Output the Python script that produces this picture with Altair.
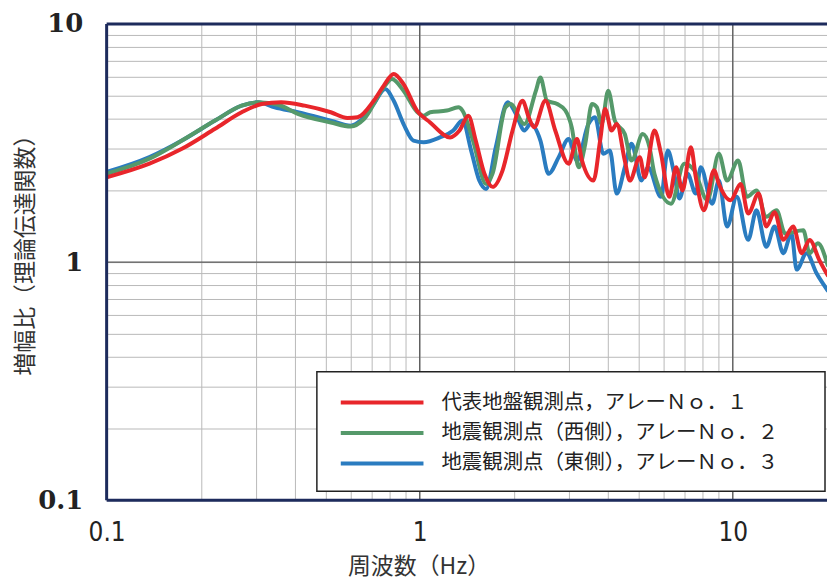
import altair as alt
import pandas as pd

# ---- data (frequency in Hz, amplitude ratio) ----
freq_red = [0.100, 0.137, 0.174, 0.222, 0.270, 0.313, 0.361, 0.429, 0.520, 0.588, 0.633, 0.713,
            0.767, 0.826, 0.888, 0.980, 1.08, 1.25, 1.34, 1.43, 1.51, 1.61, 1.71, 1.84, 1.98,
            2.13, 2.23, 2.32, 2.52, 2.71, 2.99, 3.18, 3.30, 3.59, 3.77, 3.91, 4.10, 4.26, 4.52,
            4.69, 5.05, 5.23, 5.62, 5.90, 6.27, 6.59, 6.91, 7.35, 7.62, 8.09, 8.71, 9.03, 9.84,
            10.6, 11.2, 12.1, 12.8, 13.6, 14.5, 15.6, 16.6, 17.6, 18.9, 20.1]
amp_red = [2.27, 2.59, 2.99, 3.63, 4.26, 4.61, 4.69, 4.54, 4.26, 4.03, 4.06, 4.76,
           5.50, 6.16, 5.59, 4.33, 3.86, 3.34, 3.57, 4.12, 3.24, 2.35, 2.07, 2.43, 3.57,
           4.76, 4.06, 3.68, 4.76, 3.57, 2.59, 3.29, 2.67, 2.20, 3.24, 4.40, 3.57, 3.80, 2.67,
           2.20, 2.76, 2.27, 3.57, 2.85, 1.88, 2.50, 2.00, 3.04, 2.27, 1.65, 2.43, 2.13, 1.82,
           2.13, 1.60, 1.94, 1.41, 1.62, 1.24, 1.41, 1.09, 1.24, 1.02, 0.88]

freq_green = [0.100, 0.137, 0.174, 0.222, 0.270, 0.305, 0.353, 0.408, 0.520, 0.602, 0.664, 0.767,
              0.815, 0.888, 0.980, 1.03, 1.08, 1.22, 1.33, 1.37, 1.48, 1.63, 1.71, 1.88, 1.95,
              2.16, 2.35, 2.43, 2.55, 2.75, 2.92, 3.06, 3.22, 3.38, 3.55, 3.68, 3.81, 4.00, 4.20,
              4.52, 4.75, 5.16, 5.42, 5.62, 6.35, 7.00, 7.53, 8.30, 9.03, 9.59, 10.4, 11.1, 11.9,
              12.8, 13.8, 14.7, 16.8, 17.6, 18.7, 20.1]
amp_green = [2.35, 2.72, 3.24, 3.93, 4.54, 4.69, 4.58, 4.19, 3.86, 3.71, 3.99, 5.41,
             5.87, 5.24, 4.28, 4.12, 4.26, 4.33, 4.47, 4.33, 3.24, 2.13, 2.36, 4.47, 4.61,
             3.80, 5.24, 5.96, 4.76, 4.61, 4.33, 3.68, 2.50, 3.14, 4.61, 4.47, 3.80, 5.24, 3.93,
             3.45, 2.67, 3.45, 3.04, 2.35, 1.76, 2.59, 2.43, 1.82, 2.85, 2.20, 2.67, 1.88, 2.00,
             1.55, 1.65, 1.32, 1.36, 1.09, 1.20, 0.97]

freq_blue = [0.100, 0.137, 0.174, 0.222, 0.270, 0.305, 0.344, 0.408, 0.520, 0.602, 0.647, 0.713,
             0.776, 0.826, 0.888, 0.955, 1.03, 1.16, 1.28, 1.37, 1.46, 1.55, 1.63, 1.75, 1.91,
             2.03, 2.16, 2.26, 2.43, 2.58, 2.78, 2.99, 3.18, 3.46, 3.63, 3.86, 4.05, 4.26, 4.52,
             4.75, 5.11, 5.36, 5.90, 6.20, 6.50, 6.75, 7.17, 7.62, 7.90, 8.60, 9.03, 9.59, 10.3,
             11.2, 11.9, 12.8, 13.6, 14.5, 15.4, 16.0, 17.2, 18.5, 20.1]
amp_blue = [2.39, 2.76, 3.24, 3.93, 4.54, 4.69, 4.47, 4.26, 3.93, 3.74, 3.93, 4.61,
            5.33, 4.76, 3.80, 3.24, 3.19, 3.34, 3.57, 3.93, 2.94, 2.20, 2.03, 3.04, 4.69,
            4.19, 3.57, 3.80, 3.24, 2.35, 2.76, 3.29, 2.67, 3.80, 4.06, 2.85, 2.94, 1.94, 2.50,
            3.14, 2.20, 2.50, 1.88, 2.94, 2.35, 1.85, 2.35, 1.94, 2.50, 1.76, 2.20, 1.41, 1.88,
            1.24, 1.65, 1.16, 1.41, 1.09, 1.32, 0.93, 1.09, 0.90, 0.76]

series_names = ["代表地盤観測点，アレーＮｏ．１",
                "地震観測点（西側），アレーＮｏ．２",
                "地震観測点（東側），アレーＮｏ．３"]
series_colors = ["#e8262b", "#55996a", "#2a7cc0"]

x_ticks = [0.1, 0.2, 0.3, 0.4, 0.5, 0.6, 0.7, 0.8, 0.9,
           1, 2, 3, 4, 5, 6, 7, 8, 9, 10]
y_ticks = [0.1, 0.2, 0.3, 0.4, 0.5, 0.6, 0.7, 0.8, 0.9,
           1, 2, 3, 4, 5, 6, 7, 8, 9, 10]
x_major = [1, 10]
y_major = [1]

x_title = "周波数（Hz）"
y_title = "増幅比（理論伝達関数）"

# ---- layout ----
W, H = 723, 478
xscale = alt.Scale(type="log", domain=[0.1, 20], nice=False)
yscale = alt.Scale(type="log", domain=[0.1, 10], nice=False)
frame_color = "#1d2b5c"

def series_df(f, a, name):
    return pd.DataFrame({"freq": f, "amp": a, "series": name})

df_red = series_df(freq_red, amp_red, series_names[0])
df_green = series_df(freq_green, amp_green, series_names[1])
df_blue = series_df(freq_blue, amp_blue, series_names[2])

label_expr = ("datum.value == 0.1 ? '0.1' : datum.value == 1 ? '1' : "
              "datum.value == 10 ? '10' : ''")

x_axis = alt.Axis(values=x_ticks, grid=True, gridColor="#b9b9b9", gridWidth=1,
                  ticks=False, domain=False, labelExpr=label_expr,
                  labelFont="Liberation Sans Narrow, DejaVu Sans Condensed, Liberation Sans",
                  labelFontSize=26,
                  labelColor="#222222", labelPadding=19, labelFlush=False,
                  labelOverlap=False, title=x_title, titleFont="Noto Sans CJK JP",
                  titleFontSize=23, titleFontWeight="normal", titleColor="#333333",
                  titleX=313, titleY=67, titleBaseline="middle", titleAlign="center")
y_axis = alt.Axis(values=y_ticks, grid=True, gridColor="#b9b9b9", gridWidth=1,
                  ticks=False, domain=False, labelExpr=label_expr,
                  labelFont="DejaVu Serif", labelFontWeight="bold", labelFontSize=26,
                  labelColor="#222222", labelPadding=24, labelFlush=False,
                  labelOverlap=False, title=y_title, titleFont="Noto Sans CJK JP",
                  titleFontSize=23, titleFontWeight="normal", titleColor="#333333",
                  titleX=-81, titleY=226, titleAngle=270,
                  titleBaseline="middle", titleAlign="center")

def line(df, color):
    return alt.Chart(df).mark_line(color=color, strokeWidth=4, clip=True,
                                   strokeJoin="round", strokeCap="round",
                                   interpolate="monotone").encode(
        x=alt.X("freq:Q", scale=xscale, axis=x_axis),
        y=alt.Y("amp:Q", scale=yscale, axis=y_axis),
        order=alt.Order("freq:Q"))

xmaj = alt.Chart(pd.DataFrame({"freq": x_major})).mark_rule(color="#5a5a5a", strokeWidth=1.3).encode(
    x=alt.X("freq:Q", scale=xscale, axis=x_axis))
ymaj = alt.Chart(pd.DataFrame({"amp": y_major})).mark_rule(color="#5a5a5a", strokeWidth=1.3).encode(
    y=alt.Y("amp:Q", scale=yscale, axis=y_axis))

blue = line(df_blue, series_colors[2])
green = line(df_green, series_colors[1])
red = line(df_red, series_colors[0])

one = pd.DataFrame({"k": [0]})
frame_left = alt.Chart(one).mark_rule(color=frame_color, strokeWidth=3).encode(
    x=alt.value(0), y=alt.value(0), y2=alt.value(H))
frame_top = alt.Chart(one).mark_rule(color=frame_color, strokeWidth=3).encode(
    x=alt.value(0), x2=alt.value(W), y=alt.value(0))
frame_bottom = alt.Chart(one).mark_rule(color=frame_color, strokeWidth=3).encode(
    x=alt.value(0), x2=alt.value(W), y=alt.value(H))

# legend box
leg_box = alt.Chart(one).mark_rect(fill="white", stroke="#222222", strokeWidth=1.5).encode(
    x=alt.value(211), x2=alt.value(721), y=alt.value(349), y2=alt.value(469))
legend_layers = [leg_box]
for i, (name, col) in enumerate(zip(series_names, series_colors)):
    yy = 380 + 30.5 * i
    legend_layers.append(alt.Chart(one).mark_rule(color=col, strokeWidth=4).encode(
        x=alt.value(235), x2=alt.value(318), y=alt.value(yy)))
    legend_layers.append(alt.Chart(one).mark_text(
        text=name, font="Noto Sans CJK JP", fontSize=20.5, color="#222222",
        align="left", baseline="middle").encode(x=alt.value(336), y=alt.value(yy)))

chart = alt.layer(xmaj, ymaj, blue, green, red, frame_left, frame_top, frame_bottom,
                  *legend_layers).properties(
    width=W, height=H,
    padding={"left": 99, "top": 15, "right": 0, "bottom": 82},
    autosize=alt.AutoSizeParams(type="none"),
    background="white",
).configure_view(stroke=None)

chart.save("out.html", embed_options={"renderer": "svg", "actions": False})
